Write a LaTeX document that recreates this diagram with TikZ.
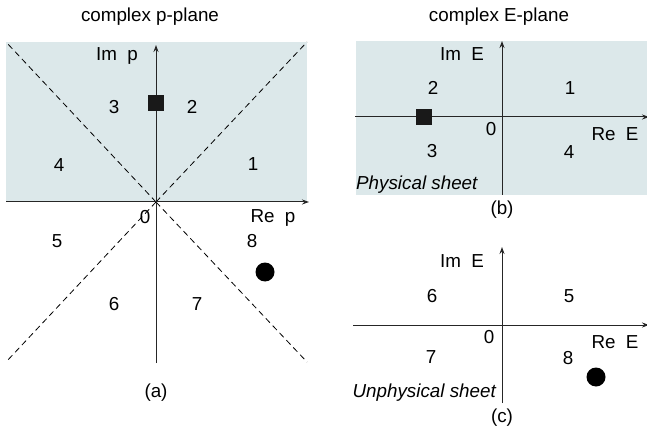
\documentclass[tikz,border=0pt]{standalone}
\usepackage{fontspec}
\setmainfont{Liberation Sans}
\usetikzlibrary{arrows.meta}
\definecolor{sheet}{HTML}{DCE8EA}
\begin{document}
\begin{tikzpicture}[x=1pt,y=-1pt,
  lbl/.style={font=\fontsize{18.8}{22}\selectfont, inner sep=0pt},
  ilbl/.style={font=\fontsize{18.8}{22}\selectfont\itshape, inner sep=0pt},
  ax/.style={line width=1pt, draw=black!85, -{Stealth[length=7pt,width=5pt]}},
  dsh/.style={line width=0.8pt, dash pattern=on 6pt off 4pt},
  sq/.style={fill=black!90, minimum size=16pt, inner sep=0pt},
  dot/.style={circle, fill=black, minimum size=19pt, inner sep=0pt}]
\useasboundingbox (0,0) rectangle (647,430);
% ---------- panel (a)
\node[lbl] (ta) at (150,17) {complex p-plane};
\fill[sheet] (6,42) rectangle (307,202);
\coordinate (oa) at (156,202);
\coordinate (atl) at (6,42);
\coordinate (atr) at (307,42);
\coordinate (abl) at (6,362);
\coordinate (abr) at (307,362);
\coordinate (axl) at (6,202);
\coordinate (axr) at (309,202);
\coordinate (ayt) at (156,45);
\coordinate (ayb) at (156,363);
\draw[dsh] (oa) -- (atl);
\draw[dsh] (oa) -- (atr);
\draw[dsh] (oa) -- (abl);
\draw[dsh] (oa) -- (abr);
\draw[ax] (axl) -- (axr);
\draw[ax] (ayb) -- (ayt);
\node[sq] (sa) at (156,103) {};
\node[dot] (da) at (265,272) {};
\node[lbl] (ima) at (117,56) {Im\ \ p};
\node[lbl] (rea) at (273,218) {Re\ \ p};
\node[lbl] (za) at (145,217) {0};
\node[lbl] (a1) at (253,164) {1};
\node[lbl] (a2) at (192,107) {2};
\node[lbl] (a3) at (114,107) {3};
\node[lbl] (a4) at (59,165) {4};
\node[lbl] (a5) at (57,241) {5};
\node[lbl] (a6) at (114,304) {6};
\node[lbl] (a7) at (197,304) {7};
\node[lbl] (a8) at (252,241) {8};
\node[lbl] (capa) at (156,393) {(a)};
% ---------- panel (b)
\node[lbl] (tb) at (499,17) {complex E-plane};
\fill[sheet] (356,41) rectangle (647,195);
\coordinate (bxl) at (355,117);
\coordinate (bxr) at (649,117);
\coordinate (byt) at (502,41);
\coordinate (byb) at (502,195);
\draw[ax] (bxl) -- (bxr);
\draw[ax] (byb) -- (byt);
\node[sq] (sb) at (424,117) {};
\node[lbl] (imb) at (462,54) {Im\ \ E};
\node[lbl] (reb) at (615,134) {Re\ \ E};
\node[lbl] (zb) at (491,129) {0};
\node[lbl] (b1) at (570,88) {1};
\node[lbl] (b2) at (433,88) {2};
\node[lbl] (b3) at (432,151) {3};
\node[lbl] (b4) at (569,152) {4};
\node[ilbl, anchor=west] (phys) at (356,185) {Physical sheet};
\node[lbl] (capb) at (502,210) {(b)};
% ---------- panel (c)
\coordinate (cxl) at (353,325);
\coordinate (cxr) at (649,325);
\coordinate (cyt) at (502,247);
\coordinate (cyb) at (502,403);
\draw[ax] (cxl) -- (cxr);
\draw[ax] (cyb) -- (cyt);
\node[dot] (dc) at (596,377) {};
\node[lbl] (imc) at (462,261) {Im\ \ E};
\node[lbl] (rec) at (615,342) {Re\ \ E};
\node[lbl] (zc) at (489,337) {0};
\node[lbl] (c5) at (569,296) {5};
\node[lbl] (c6) at (432,296) {6};
\node[lbl] (c7) at (431,357) {7};
\node[lbl] (c8) at (568,358) {8};
\node[ilbl, anchor=east] (unph) at (496,393) {Unphysical sheet};
\node[lbl] (capc) at (502,418) {(c)};
\end{tikzpicture}
\end{document}
